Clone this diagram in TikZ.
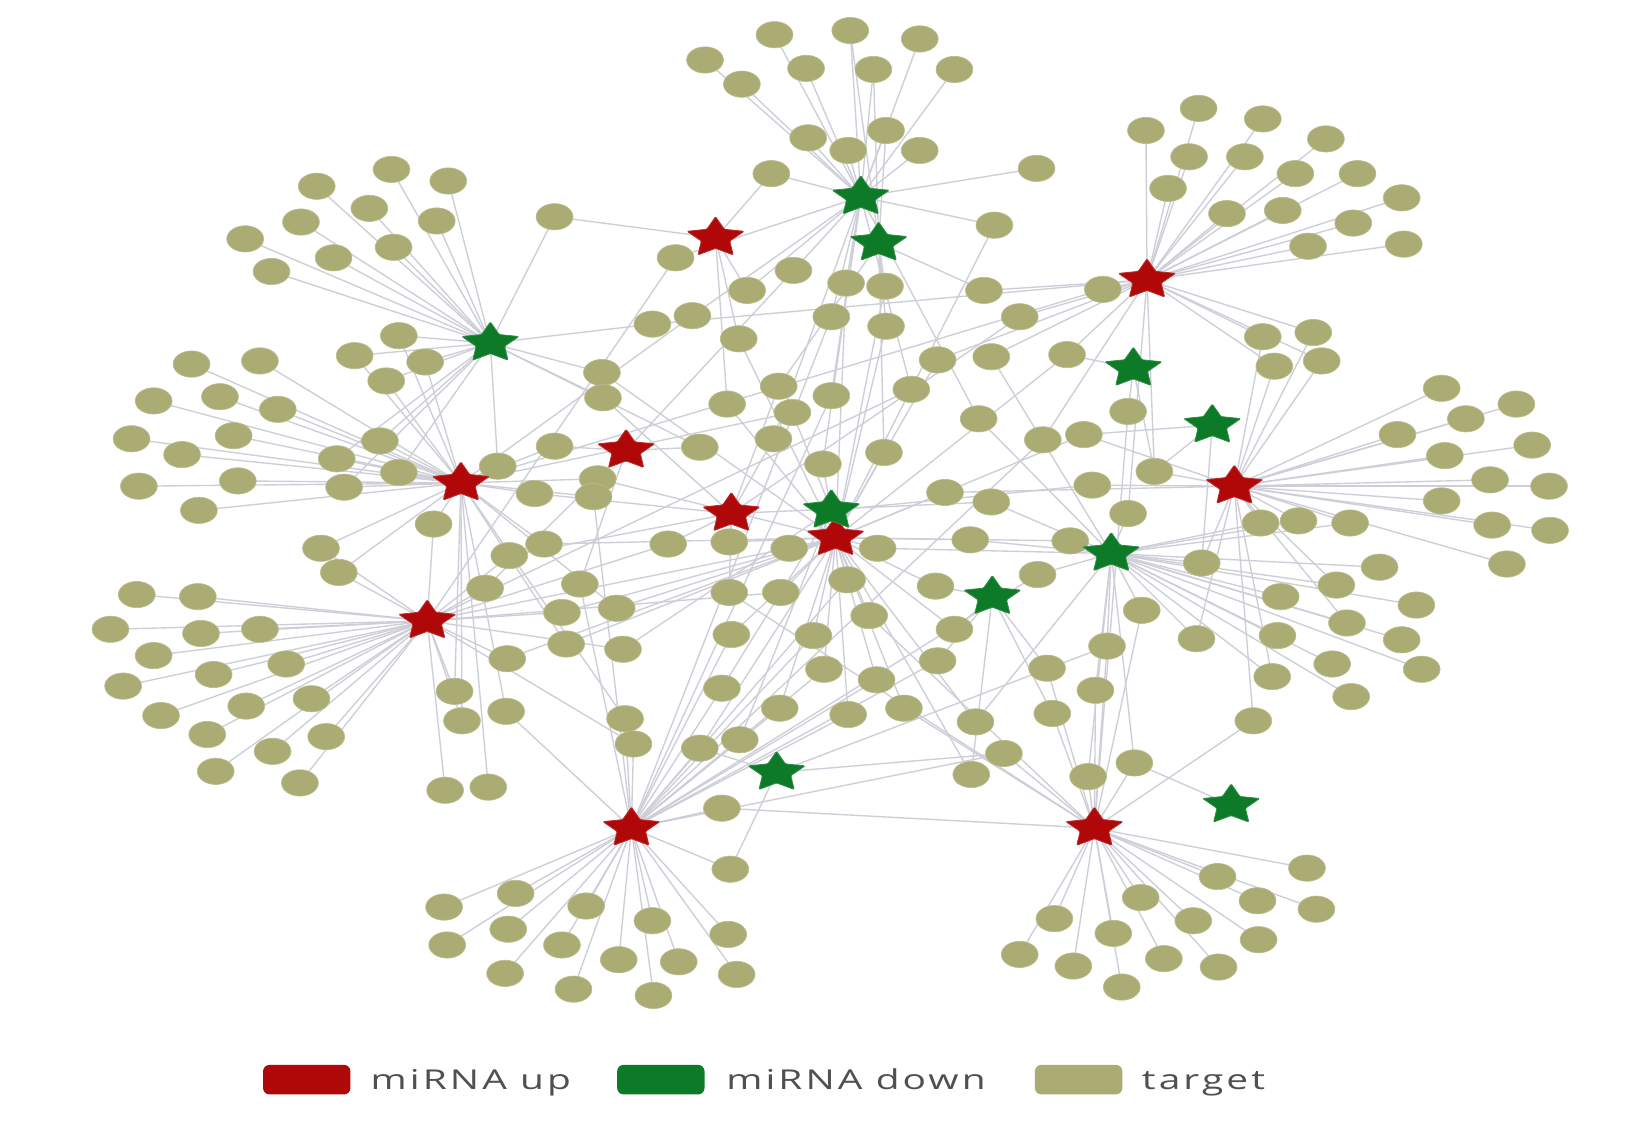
\documentclass[tikz,border=0pt]{standalone}
\usepackage{fontspec}
\usepackage{graphicx}
\setmainfont{Open Sans}
\newfontfamily\legfont{Open Sans}[LetterSpace=8]
\usetikzlibrary{shapes.geometric}
\definecolor{upred}{RGB}{176,8,8}
\definecolor{downgreen}{RGB}{12,122,38}
\definecolor{tgcol}{RGB}{170,172,115}
\definecolor{edgecol}{RGB}{206,206,216}
\definecolor{txtcol}{RGB}{80,80,80}
\pgfdeclarelayer{background}
\pgfdeclarelayer{foreground}
\pgfsetlayers{background,main,foreground}
\tikzset{
  tg/.style={ellipse,fill=tgcol,draw=tgcol!80!white,line width=0.6pt,minimum width=35pt,minimum height=25pt,inner sep=0pt},
  mirstar/.style={star,star points=5,star point ratio=2.0,minimum size=40pt,inner sep=0pt,rounded corners=1pt,line width=0.8pt,transform shape},
  upstar/.style={mirstar,fill=upred,draw=upred!85!white},
  downstar/.style={mirstar,fill=downgreen,draw=downgreen!85!white},
  edge/.style={draw=edgecol,line width=1.3pt},
  legbox/.style={rounded corners=6pt,minimum width=83pt,minimum height=28pt,inner sep=0pt},
  legtext/.style={anchor=base west,text=txtcol,font=\legfont\fontsize{26}{30}\selectfont,inner sep=0pt}
}
\begin{document}
\begin{tikzpicture}[x=1pt,y=-1pt]
\begin{pgfonlayer}{background}
\fill[white] (0,0) rectangle (1568,1067);
\end{pgfonlayer}
\useasboundingbox (0,0) rectangle (1568,1067);
% miRNA stars
\begin{pgfonlayer}{foreground}
\foreach \n/\x/\y in {R1/680/226,R2/1090/266,R3/595/428,R4/438/459,R5/695/488,R6/794/511,R7/1173/462,R8/406/590,R9/600/787,R10/1040/787}
  {\begin{scope}[shift={(\x,\y)},xscale=1.42]\node[upstar] (\n) at (0,0) {};\end{scope}}
\foreach \n/\x/\y in {G1/818/187,G2/835/231,G3/466/326,G4/1077/350,G5/1152/404,G6/790/485,G7/1056/526,G8/943/567,G9/738/734,G10/1170/765}
  {\begin{scope}[shift={(\x,\y)},xscale=1.42]\node[downstar] (\n) at (0,0) {};\end{scope}}
\end{pgfonlayer}
% targets with their edges
\foreach \x/\y/\s [count=\i] in {
736/33/G1, 808/29/{G1,G2}, 874/37/G1, 670/57/G1, 766/65/G1, 830/66/{G1,G2}, 907/66/G1, 705/80/G1, 768/131/G1, 842/124/{G1,G2}, 806/143/G1, 874/143/G1, 733/165/{G1,R1}, 985/160/G1, 527/206/{G3,R1}, 642/245/{G1,R8},
1139/103/R2, 1200/113/R2, 1089/124/R2, 1260/132/R2, 1130/149/R2, 1183/149/R2, 1231/165/R2, 1290/165/R2, 1110/179/R2, 1332/188/R2, 1166/203/R2, 1219/200/R2, 1286/212/R2, 1243/234/R2, 1334/232/R2, 945/214/{G1,R6}, 1048/275/{R2,R4}, 935/276/{R2,G2}, 969/301/{R2,R5},
372/161/G3, 426/172/G3, 301/177/G3, 351/198/G3, 415/210/G3, 286/211/G3, 233/227/G3, 374/235/G3, 317/245/G3, 258/258/G3, 379/319/{G3,R4}, 337/338/{G3,R4}, 404/344/{G3,R4}, 367/362/{G3,R4},
182/346/R4, 247/343/R4, 146/381/R4, 209/377/R4, 264/389/R4, 125/417/R4, 222/414/R4, 173/432/R4, 132/462/R4, 226/457/R4, 189/485/R4, 320/436/{R4,G3}, 361/419/{R4,G3}, 327/463/{R4,G3}, 379/449/{R4,G3}, 412/498/{R4,R8}, 473/443/{R4,G3}, 305/521/{R8,R4}, 322/544/{R8,R4},
130/565/R8, 188/567/R8, 105/598/R8, 191/602/R8, 247/598/R8, 146/623/R8, 272/631/R8, 117/652/R8, 203/641/R8, 296/664/R8, 153/680/R8, 234/671/R8, 197/698/R8, 259/714/R8, 310/700/R8, 205/733/R8, 285/744/R8,
422/862/R9, 490/849/R9, 557/861/R9, 620/875/R9, 483/883/R9, 425/898/R9, 534/898/R9, 692/888/R9, 588/912/R9, 645/914/R9, 480/925/R9, 700/926/R9, 545/940/R9, 621/946/R9, 694/826/{R9,G9}, 686/768/{R9,R10}, 423/751/R8, 464/748/R4,
1242/825/R10, 1157/833/R10, 1084/853/R10, 1195/856/R10, 1251/864/R10, 1002/873/R10, 1134/875/R10, 1058/887/R10, 1196/893/R10, 969/907/R10, 1106/911/R10, 1020/918/R10, 1158/919/R10, 1066/938/R10,
1370/369/R7, 1441/384/R7, 1328/413/R7, 1393/398/R7, 1456/423/R7, 1373/433/R7, 1416/456/R7, 1472/462/R7, 1370/476/R7, 1418/499/R7, 1473/504/R7, 1432/536/R7, 1200/320/{R2,R7}, 1248/316/{R2,R7}, 1211/348/{R2,R7}, 1256/343/{R2,R7}, 1198/497/{R7,G7}, 1234/495/{R7,G7}, 1283/497/{R7,G7}, 1311/539/G7, 1270/556/{G7,R7}, 1217/567/G7, 1346/575/G7, 1280/592/{G7,R7}, 1214/604/G7, 1332/608/G7, 1266/631/G7, 1351/636/G7, 1209/643/{G7,R7}, 1284/662/G7, 1191/685/{R7,R10},
710/276/{R1,G1}, 754/257/{G1,R3}, 804/269/{G1,R6}, 841/272/{G2,R6}, 790/301/{G1,R9}, 842/310/{G2,R6}, 702/322/{R1,R6}, 620/308/{G3,R2}, 658/300/{G1,R4}, 572/354/{G3,R6}, 573/378/{G3,R5}, 691/384/{R6,R1}, 740/367/{G2,R5}, 790/376/{G1,R9}, 866/370/{G1,R8}, 891/342/{R2,R6}, 942/339/{R2,G7}, 1014/337/{R2,R6,G4}, 1072/391/{G4,R10}, 930/398/{G1,G7}, 991/418/{R2,R9}, 1030/413/{R7,R6,G5}, 735/417/{R5,G1}, 753/392/{R4,G6}, 840/430/{G2,R6}, 782/441/{G1,R6}, 665/425/{R3,G3}, 527/424/{R4,R3}, 568/455/{R4,R6}, 508/469/{R4,R5}, 564/472/{R4,R9}, 484/528/{R8,R5}, 517/517/{R4,R6}, 635/517/{R5,R8}, 693/515/{R6,R5}, 750/521/{R6,R8}, 834/521/{R6,G7}, 898/468/{R7,R6}, 942/477/{G7,R5}, 1038/461/{R7,G6}, 1097/448/{R7,R2,G5,G4}, 1072/488/{G7,R2}, 922/513/{G7,R6}, 1017/514/{G7,R6}, 986/546/{G7,R9}, 889/557/{G8,R6}, 805/551/{R6,R9}, 742/563/{R6,R8}, 693/563/{R5,R10}, 586/578/{R4,R6}, 551/555/{R3,R9}, 534/582/{R8,R6}, 538/612/{R4,R6}, 592/617/{R8,G6}, 461/559/{R8,R3}, 482/626/{R8,R6}, 432/657/{R8,R4}, 439/685/{R8,R4}, 481/676/{R4,R9}, 695/603/{R6,R9}, 773/604/{R6,R9}, 826/585/{R6,R10}, 907/598/{G8,R6}, 891/628/{G8,R9}, 783/636/{R6,R9}, 833/646/{R6,R9}, 686/654/{R9,G6}, 741/673/{R9,R6}, 806/679/{R6,R9}, 859/673/{R6,R10}, 995/635/{G8,R10}, 1041/656/{G7,R10}, 1052/614/{G7,R10,G9}, 1085/580/{G7,R10}, 1137/607/{R7,G7}, 1142/535/{R7,G7,G5}, 1000/678/{G8,R10}, 927/686/{R6,G7}, 954/716/{R9,R10,G9}, 923/736/{G8,R6}, 1034/738/{R10,G7}, 1078/725/{R10,G7,G10}, 594/683/{R9,R4}, 602/707/{R9,R8}, 665/711/{R9,R6,G9}, 703/703/{R9,G6}}{
  \node[tg] (t\i) at (\x,\y) {};
  \begin{pgfonlayer}{background}
    \foreach \st in \s {\draw[edge] (\st.center) -- (t\i.center);}
  \end{pgfonlayer}
}
% legend
\node[legbox,fill=upred] (lu) at (291.5,1026) {};
\node[legtext] (lut) at (352,1035) {\scalebox{1.42}[1]{miRNA up}};
\node[legbox,fill=downgreen] (ld) at (628,1026) {};
\node[legtext] (ldt) at (690,1035) {\scalebox{1.42}[1]{miRNA down}};
\node[legbox,fill=tgcol] (lt) at (1025,1026) {};
\node[legtext] (ltt) at (1085,1035) {\scalebox{1.42}[1]{target}};
\end{tikzpicture}
\end{document}
